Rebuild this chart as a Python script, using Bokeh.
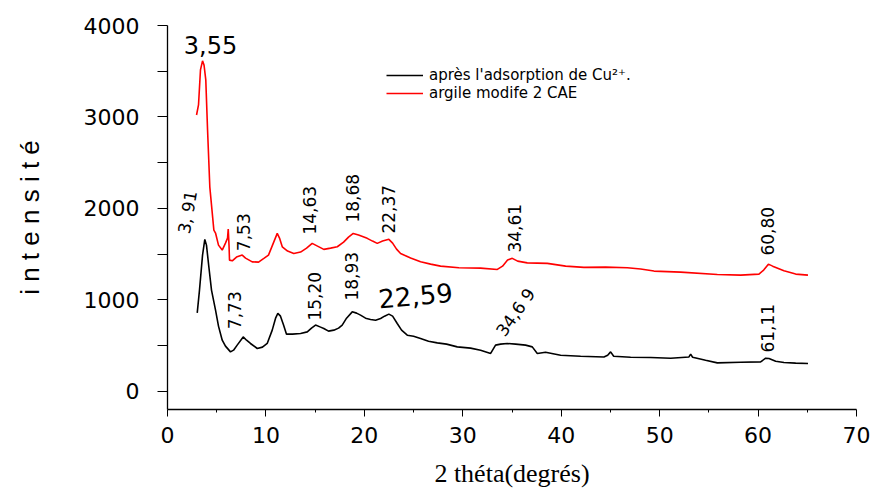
from bokeh.plotting import figure
from bokeh.models import Range1d, Legend, LegendItem, ColumnDataSource, FixedTicker
from bokeh.core.properties import value
from bokeh.embed import file_html
from bokeh.resources import INLINE

# ---- data ----
red_x = [2.95, 3.15, 3.35, 3.56, 3.71, 3.89, 4.07, 4.30, 4.71, 4.88, 5.18, 5.56, 5.89, 6.10, 6.17,
         6.25, 6.30, 6.58, 7.01, 7.59, 7.93, 8.61, 9.25, 9.79, 10.26, 10.67, 11.15, 11.38, 11.66,
         12.20, 12.83, 13.52, 14.13, 14.70, 15.24, 15.88, 16.57, 17.25, 17.89, 18.39, 18.87, 19.41,
         20.29, 20.83, 21.31, 21.85, 22.49, 22.87, 23.27, 23.68, 24.70, 25.71, 26.73, 27.74, 29.60,
         31.81, 33.51, 34.04, 34.55, 35.03, 35.57, 36.55, 38.59, 40.45, 42.31, 44.51, 46.72, 48.07,
         49.42, 52.13, 55.86, 58.23, 60.09, 60.57, 61.05, 61.48, 62.63, 63.82, 65.07]
red_y = [3021, 3131, 3514, 3613, 3569, 3405, 2857, 2233, 1762, 1730, 1598, 1544, 1620, 1675, 1773,
         1598, 1434, 1426, 1467, 1489, 1456, 1415, 1412, 1453, 1489, 1598, 1726, 1675, 1580,
         1533, 1507, 1522, 1565, 1617, 1587, 1551, 1565, 1580, 1631, 1686, 1726, 1708,
         1672, 1642, 1617, 1642, 1661, 1620, 1554, 1507, 1456, 1415, 1390, 1368, 1350,
         1346, 1332, 1368, 1434, 1453, 1423, 1404, 1398, 1368, 1354, 1357, 1350, 1336,
         1314, 1303, 1277, 1270, 1281, 1325, 1390, 1368, 1317, 1281, 1270]

black_x = [3.02, 3.25, 3.56, 3.79, 3.96, 4.20, 4.47, 4.88, 5.18, 5.56, 5.89, 6.40, 6.71, 7.08, 7.69,
           8.03, 8.43, 9.12, 9.65, 10.13, 10.64, 10.98, 11.21, 11.48, 11.79, 12.09, 12.70, 13.52,
           14.20, 14.63, 15.04, 15.55, 15.88, 16.36, 16.90, 17.38, 17.75, 18.19, 18.77, 19.21,
           19.61, 20.12, 20.63, 21.14, 21.65, 22.05, 22.49, 22.87, 23.34, 23.78, 24.36, 25.00,
           25.71, 26.52, 27.41, 28.35, 29.44, 30.79, 31.81, 32.83, 33.33, 33.84, 34.52, 35.37,
           36.38, 37.06, 37.57, 38.41, 39.94, 41.97, 44.34, 44.72, 45.02, 45.33, 47.05, 49.09,
           51.12, 52.98, 53.15, 53.35, 54.67, 55.86, 58.23, 60.26, 60.77, 61.11, 61.79, 62.63,
           63.82, 65.07]
black_y = [857, 1106, 1489, 1661, 1598, 1361, 1106, 887, 712, 558, 493, 430, 449, 504, 594,
           558, 522, 467, 482, 522, 668, 799, 851, 821, 723, 624, 624, 632,
           649, 690, 723, 701, 686, 657, 668, 690, 723, 799, 868, 854,
           832, 799, 785, 777, 796, 821, 843, 821, 741, 668, 613, 602,
           577, 547, 529, 515, 485, 471, 449, 413, 504, 515, 522, 515,
           504, 485, 413, 427, 394, 383, 375, 394, 430, 383, 372, 369,
           361, 375, 405, 372, 339, 310, 317, 321, 361, 357, 328, 314,
           307, 303]

series_names = ["après l'adsorption de Cu²⁺.", "argile modife 2 CAE"]

x_ticks = [0, 10, 20, 30, 40, 50, 60, 70]
x_minor = [5, 15, 25, 35, 45, 55, 65]
y_ticks = [0, 1000, 2000, 3000, 4000]
y_minor = [500, 1500, 2500, 3500]

# peak annotations (text, x, y in data units, angle in degrees)
ann_small_text = ["3, 91", "7,53", "14,63", "18,68", "22,37", "34,61", "60,80",
                  "7,73", "15,20", "18,93", "34,6 9", "61,11"]
ann_small_x = [2.03, 7.72, 14.43, 18.80, 22.46, 35.26, 60.98,
               6.81, 14.94, 18.70, 35.37, 60.98]
ann_small_y = [1958, 1739, 1980, 2111, 1991, 1783, 1750,
               886, 1039, 1258, 864, 689]
ann_small_angle = [80, 90, 90, 90, 90, 90, 90, 90, 90, 90, 55, 90]

ann_big_text = ["3,55"]
ann_big_x = [4.37]
ann_big_y = [3784]

ann_huge_text = ["22,59"]
ann_huge_x = [25.20]
ann_huge_y = [1050]
ann_huge_angle = [5]

# ---- figure ----
p = figure(width=880, height=492, x_range=Range1d(0, 70), y_range=Range1d(-200, 4000),
           output_backend="svg", toolbar_location=None,
           min_border_left=167, min_border_right=24, min_border_top=25, min_border_bottom=83)
p.xgrid.visible = False
p.ygrid.visible = False
p.outline_line_color = None
p.background_fill_color = "white"
p.border_fill_color = "white"

r_black = p.line(black_x, black_y, line_color="black", line_width=1.6)
r_red = p.line(red_x, red_y, line_color="#ff0000", line_width=1.6)

for ax in (p.xaxis[0], p.yaxis[0]):
    ax.axis_line_color = "black"
    ax.axis_line_width = 1.3
    ax.major_tick_line_color = "black"
    ax.minor_tick_line_color = "black"
    ax.major_tick_in = 0
    ax.minor_tick_in = 0
    ax.major_label_text_font = "DejaVu Sans"
    ax.major_label_text_font_size = "22px"
    ax.major_label_text_color = "black"
    ax.axis_label_text_font_style = "normal"
    ax.axis_label_text_color = "black"

p.xaxis.ticker = FixedTicker(ticks=x_ticks, minor_ticks=x_minor)
p.xaxis.major_tick_out = 7
p.xaxis.minor_tick_out = 3
p.xaxis.major_label_standoff = 10
p.xaxis.axis_label = "2 théta(degrés)"
p.xaxis.axis_label_text_font = "Liberation Serif"
p.xaxis.axis_label_text_font_size = "26px"
p.xaxis.axis_label_standoff = 13

p.yaxis.ticker = FixedTicker(ticks=y_ticks, minor_ticks=y_minor)
p.yaxis.major_tick_out = 10
p.yaxis.minor_tick_out = 10
p.yaxis.major_label_standoff = 18
p.yaxis.axis_label = "i n t e n s i t é"
p.yaxis.axis_label_text_font = "Liberation Sans"
p.yaxis.axis_label_text_font_size = "26px"
p.yaxis.axis_label_standoff = 36

src_small = ColumnDataSource(dict(x=ann_small_x, y=ann_small_y, text=ann_small_text, angle=ann_small_angle))
p.text(x="x", y="y", text="text", angle="angle", angle_units="deg", source=src_small,
       text_align="center", text_baseline="middle", text_font=value("DejaVu Sans"),
       text_font_size="17px", text_color="black")
src_big = ColumnDataSource(dict(x=ann_big_x, y=ann_big_y, text=ann_big_text))
p.text(x="x", y="y", text="text", source=src_big,
       text_align="center", text_baseline="middle", text_font=value("DejaVu Sans"),
       text_font_size="24px", text_color="black")
src_huge = ColumnDataSource(dict(x=ann_huge_x, y=ann_huge_y, text=ann_huge_text, angle=ann_huge_angle))
p.text(x="x", y="y", text="text", angle="angle", angle_units="deg", source=src_huge,
       text_align="center", text_baseline="middle", text_font=value("DejaVu Sans"),
       text_font_size="26px", text_color="black")

legend = Legend(items=[LegendItem(label=series_names[0], renderers=[r_black]),
                       LegendItem(label=series_names[1], renderers=[r_red])],
                location=(219, 307))
legend.border_line_color = None
legend.background_fill_alpha = 0
legend.padding = 0
legend.margin = 0
legend.spacing = 0
legend.glyph_width = 37
legend.glyph_height = 16
legend.label_height = 16
legend.label_standoff = 6
legend.label_text_font = "DejaVu Sans"
legend.label_text_font_size = "15px"
legend.label_text_color = "black"
p.add_layout(legend)

open("out.html", "w").write(file_html(p, INLINE))
